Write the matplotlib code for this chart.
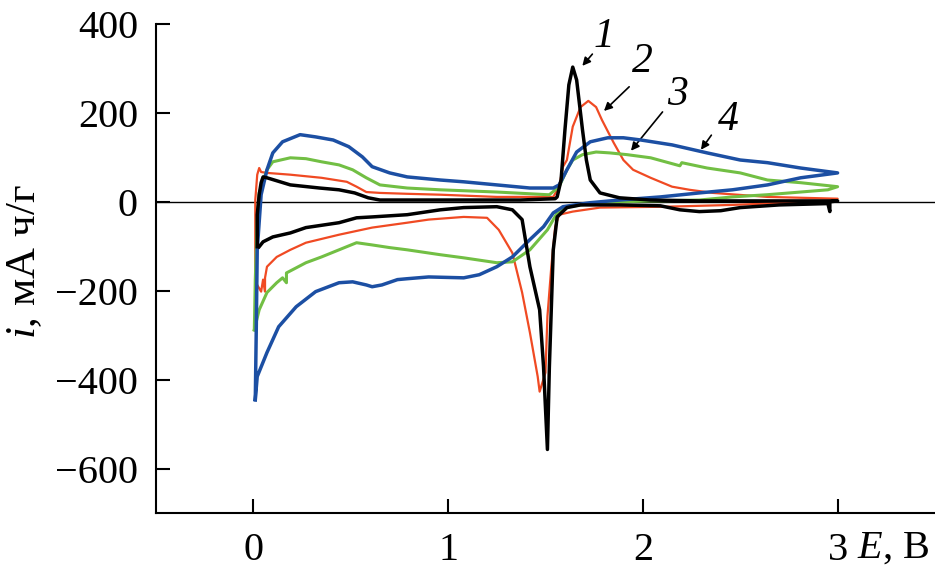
import matplotlib
matplotlib.use("Agg")
import matplotlib.pyplot as plt

plt.rcParams['font.family'] = ['Liberation Serif', 'DejaVu Serif']
plt.rcParams['mathtext.fontset'] = 'custom'
plt.rcParams['mathtext.rm'] = 'Liberation Serif'
plt.rcParams['mathtext.it'] = 'Liberation Serif:italic'

# curve 1 (black): anodic sweep 0 -> 3 V, then cathodic 3 -> 0 V
e1 = [0.02, 0.02, 0.03, 0.04, 0.05, 0.07, 0.19, 0.34, 0.44, 0.52, 0.59, 0.65, 1.01, 1.37,
      1.55, 1.56, 1.58, 1.60, 1.62, 1.64, 1.66, 1.69, 1.71, 1.73, 1.78, 1.88, 2.04, 2.29, 2.95, 3.0,
      2.96, 2.96, 2.95, 2.70, 2.50, 2.40, 2.29, 2.19, 2.09, 1.88, 1.68, 1.61, 1.56, 1.54, 1.52,
      1.51, 1.49, 1.47, 1.42, 1.38, 1.33, 1.25, 1.08, 0.96, 0.79, 0.61, 0.53, 0.44, 0.27, 0.19,
      0.10, 0.05, 0.03]
i1 = [-101, -29, 16, 43, 56, 54, 38, 31, 27, 20, 9, 4, 4, 4,
      7, 11, 49, 162, 263, 303, 274, 162, 94, 49, 20, 9, 4, 2, 2, 2,
      0, -22, -4, -7, -13, -20, -22, -18, -9, -7, -7, -13, -34, -108, -371,
      -557, -371, -243, -146, -40, -18, -11, -13, -18, -29, -34, -36, -47, -58, -70,
      -79, -90, -101]

# curve 2 (red)
e2 = [0.01, 0.01, 0.01, 0.02, 0.03, 0.04, 0.07, 0.19, 0.35, 0.48, 0.53, 0.58, 0.65, 0.79,
      0.96, 1.25, 1.54, 1.57, 1.59, 1.61, 1.64, 1.68, 1.72, 1.76, 1.79, 1.85, 1.90, 1.95, 2.04,
      2.15, 2.24, 2.36, 2.64, 3.0,
      2.98, 2.46, 2.12, 1.78, 1.64, 1.57, 1.55, 1.53, 1.51, 1.50, 1.47, 1.46, 1.42, 1.38, 1.33,
      1.26, 1.20, 1.08, 0.90, 0.79, 0.61, 0.44, 0.27, 0.19, 0.12, 0.07, 0.06, 0.06, 0.05, 0.04,
      0.02, 0.01]
i2 = [-187, -108, 4, 61, 76, 67, 65, 61, 54, 45, 34, 22, 20, 18,
      16, 11, 11, 34, 79, 94, 169, 213, 227, 213, 184, 133, 94, 72, 54,
      34, 27, 20, 11, 7,
      2, -7, -11, -13, -22, -29, -56, -146, -258, -384, -427, -393, -294, -204, -115,
      -63, -36, -34, -40, -47, -58, -74, -92, -108, -124, -146, -171, -202, -175, -202,
      -187, -187]

# curve 3 (green)
e3 = [0.005, 0.01, 0.02, 0.03, 0.07, 0.10, 0.19, 0.27, 0.35, 0.44, 0.51, 0.58, 0.65, 0.79,
      0.96, 1.25, 1.51, 1.52, 1.57, 1.61, 1.64, 1.69, 1.76, 1.83, 1.92, 2.04, 2.19, 2.20, 2.33,
      2.50, 2.64, 2.81, 3.0,
      2.95, 2.81, 2.64, 2.46, 2.29, 2.04, 1.76, 1.62, 1.56, 1.51, 1.42, 1.33, 1.25, 1.08, 0.96,
      0.79, 0.70, 0.61, 0.53, 0.44, 0.35, 0.27, 0.17, 0.17, 0.15, 0.12, 0.07, 0.03, 0.005]
i3 = [-288, -175, -40, 20, 72, 90, 99, 97, 90, 83, 72, 54, 38, 31,
      27, 22, 16, 16, 34, 72, 94, 106, 112, 110, 106, 99, 81, 88, 76,
      65, 49, 43, 34,
      27, 22, 16, 11, 4, 2, -2, -11, -25, -63, -108, -135, -137, -126, -119,
      -108, -103, -97, -92, -108, -124, -137, -160, -182, -171, -182, -204, -243, -288]

# curve 4 (blue)
e4 = [0.01, 0.015, 0.02, 0.04, 0.07, 0.10, 0.15, 0.24, 0.32, 0.41, 0.49, 0.56, 0.61, 0.70,
      0.79, 0.96, 1.08, 1.25, 1.42, 1.54, 1.57, 1.61, 1.66, 1.73, 1.82, 1.90, 1.99, 2.15, 2.33,
      2.50, 2.64, 2.81, 3.0,
      2.81, 2.64, 2.46, 2.29, 2.09, 1.88, 1.73, 1.65, 1.59, 1.54, 1.49, 1.42, 1.33, 1.25, 1.16,
      1.08, 0.90, 0.79, 0.74, 0.66, 0.61, 0.58, 0.51, 0.44, 0.32, 0.22, 0.13, 0.07, 0.02, 0.01]
i4 = [-445, -288, -108, 16, 72, 110, 135, 151, 146, 139, 124, 101, 79, 65,
      56, 49, 45, 38, 31, 31, 38, 72, 112, 135, 144, 144, 139, 128, 110,
      94, 88, 76, 65,
      54, 38, 27, 20, 11, 4, -2, -7, -11, -25, -56, -85, -124, -146, -164,
      -171, -169, -173, -175, -187, -191, -187, -180, -182, -202, -236, -281, -339, -393, -445]

fig = plt.figure(figsize=(9.35, 5.72), dpi=100)
ax = fig.add_axes([0.1668, 0.1031, 0.8332, 0.855])

ax.axhline(0, color='black', lw=1.0, zorder=1)
ax.plot(e2, i2, color='#f04a23', lw=1.6, zorder=2)
ax.plot(e3, i3, color='#72bf44', lw=2.2, zorder=3)
ax.plot(e4, i4, color='#1c4fa3', lw=2.5, zorder=4)
ax.plot(e1, i1, color='black', lw=2.5, zorder=5)

ax.set_xlim(-0.5, 3.5)
ax.set_ylim(-700, 400)
ax.set_xticks([0, 1, 2, 3])
ax.set_yticks([-600, -400, -200, 0, 200, 400])
ax.spines['top'].set_visible(False)
ax.spines['right'].set_visible(False)
for s in ['left', 'bottom']:
    ax.spines[s].set_linewidth(1.5)
ax.tick_params(direction='in', length=10, width=1.5, labelsize=29)
ax.tick_params(axis='x', pad=14)
ax.tick_params(axis='y', pad=13)

# curve numbers with arrows
labels = ['1', '2', '3', '4']
label_pos = [(1.80, 372), (2.00, 315), (2.18, 240), (2.44, 184)]
arrow_tail = [(1.75, 337), (1.94, 263), (2.11, 207), (2.36, 155)]
arrow_head = [(1.68, 301), (1.79, 200), (1.93, 110), (2.29, 112)]
for lab, p, t, h in zip(labels, label_pos, arrow_tail, arrow_head):
    ax.text(p[0], p[1], lab, fontsize=30, style='italic', ha='center', va='center')
    ax.annotate('', xy=h, xytext=t,
                arrowprops=dict(arrowstyle='-|>', color='black', lw=1.2, mutation_scale=12))

fig.text(25 / 935, 1 - 262 / 572, '$i$, мА ч/г', rotation=90, fontsize=31,
         ha='center', va='center')
fig.text(857 / 935, 1 - 548 / 572, '$E$, В', fontsize=29, ha='left', va='center')

fig.savefig('out.png', dpi=100)
